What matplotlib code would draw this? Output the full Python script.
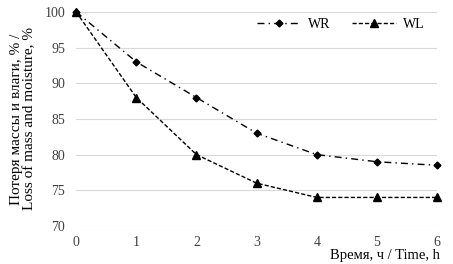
import matplotlib
matplotlib.use("Agg")
import matplotlib.pyplot as plt

time_h = [0, 1, 2, 3, 4, 5, 6]
wr = [100, 93, 88, 83, 80, 79, 78.5]
wl = [100, 88, 80, 76, 74, 74, 74]
yticks = [70, 75, 80, 85, 90, 95, 100]

plt.rcParams['font.family'] = ['Liberation Serif', 'DejaVu Serif']

fig = plt.figure(figsize=(4.53, 2.64), dpi=100)
ax = fig.add_axes([0.168, 0.144, 0.797, 0.811])

ax.plot(time_h, wr, color='black', linestyle=(0, (5, 3, 1, 3)), linewidth=1.0,
        marker='D', markersize=3.5, label='WR', clip_on=False, zorder=3)
ax.plot(time_h, wl, color='black', linestyle=(0, (3, 1.5)), linewidth=1.0,
        marker='^', markersize=5.5, label='WL', clip_on=False, zorder=3)

ax.set_xlim(0, 6)
ax.set_ylim(70, 100)
ax.set_yticks(yticks)
ax.set_xticks(time_h)
ax.grid(axis='y', color='#d9d9d9', linewidth=0.8)
ax.set_axisbelow(True)
for s in ax.spines.values():
    s.set_visible(False)
ax.tick_params(length=0, labelsize=10, colors='#404040')
ax.tick_params(axis='x', pad=7)
ax.tick_params(axis='y', pad=8)

ax.set_ylabel('Потеря массы и влаги, % /\nLoss of mass and moisture, %', fontsize=11,
              color='black', linespacing=1.0, labelpad=6)
fig.text(0.972, 0.008, 'Время, ч / Time, h', fontsize=10.5, ha='right', va='bottom')

ax.legend(loc='upper right', bbox_to_anchor=(1.0, 1.03), ncol=2, frameon=False,
          fontsize=10, handlelength=3.2, columnspacing=1.5, handletextpad=0.5)

fig.savefig('out.png', dpi=100)
